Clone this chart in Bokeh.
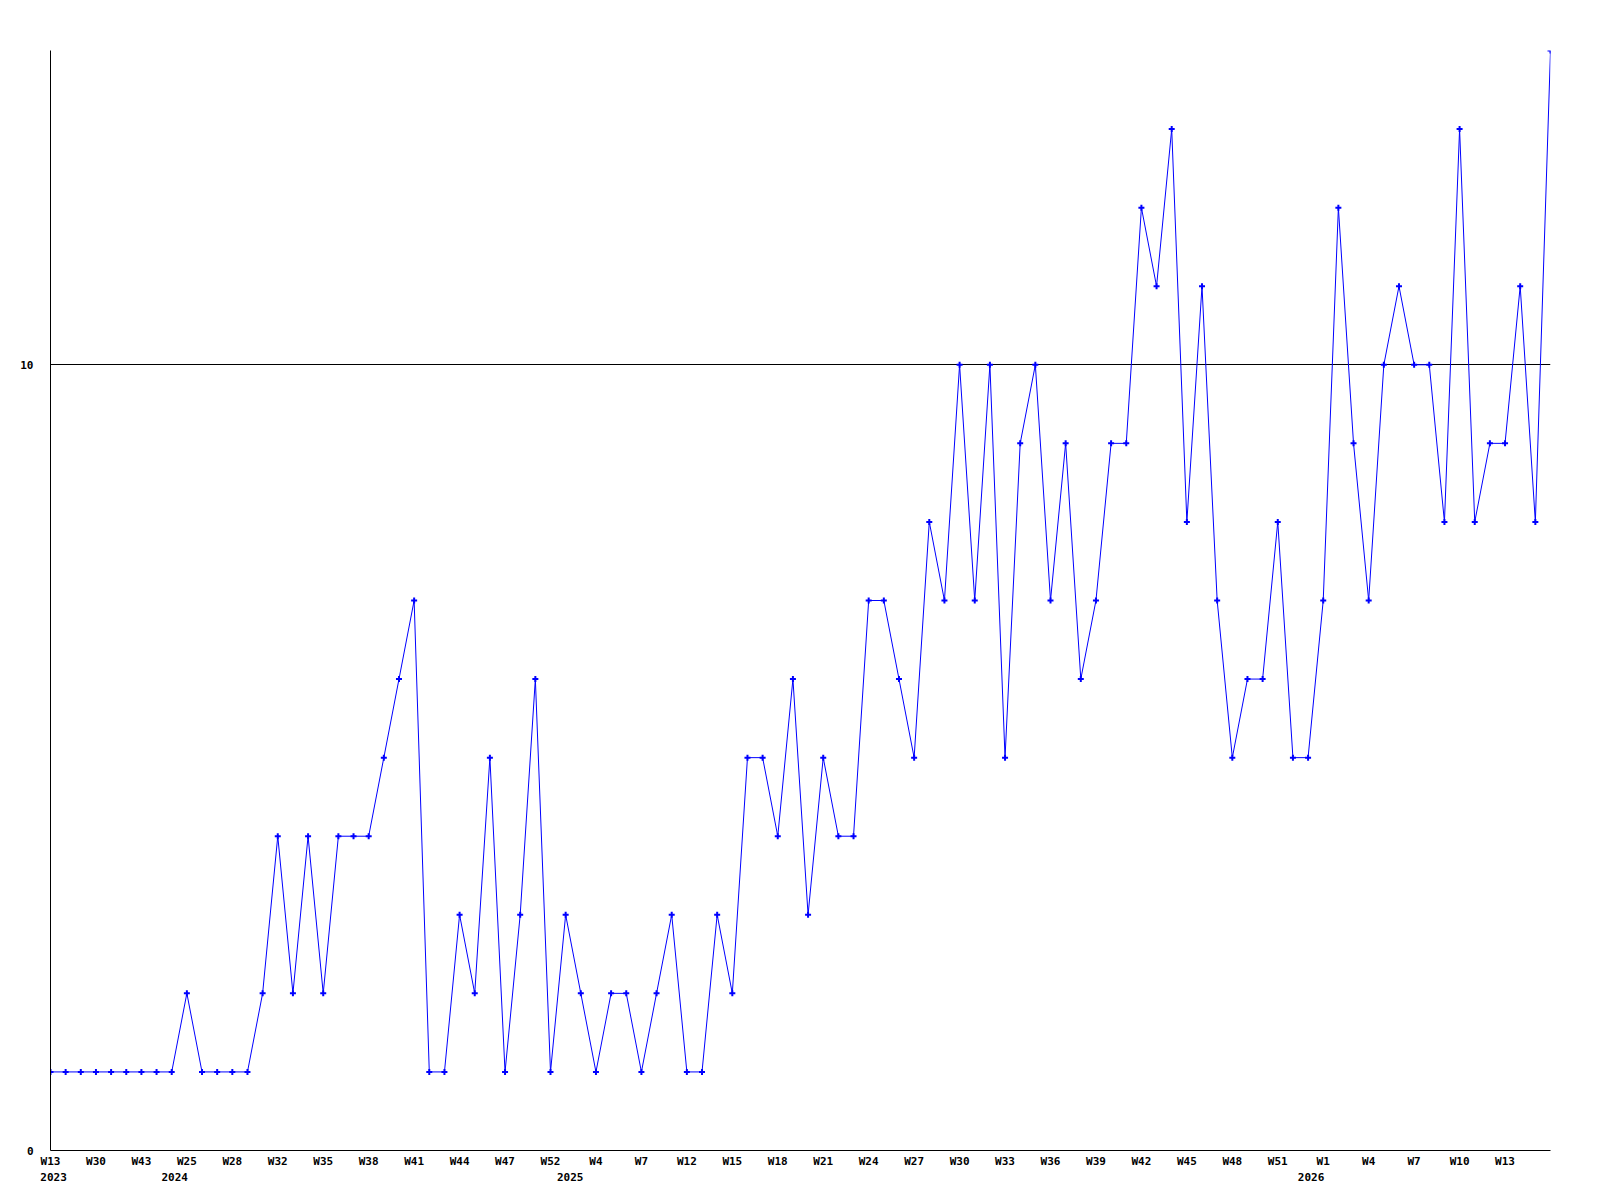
from bokeh.plotting import figure
from bokeh.models import Range1d, FixedTicker, LinearAxis
from bokeh.embed import file_html
from bokeh.resources import INLINE

# Weekly values (100 weekly samples)
values = [1, 1, 1, 1, 1, 1, 1, 1, 1, 2,
          1, 1, 1, 1, 2, 4, 2, 4, 2, 4,
          4, 4, 5, 6, 7, 1, 1, 3, 2, 5,
          1, 3, 6, 1, 3, 2, 1, 2, 2, 1,
          2, 3, 1, 1, 3, 2, 5, 5, 4, 6,
          3, 5, 4, 4, 7, 7, 6, 5, 8, 7,
          10, 7, 10, 5, 9, 10, 7, 9, 6, 7,
          9, 9, 12, 11, 13, 8, 11, 7, 5, 6,
          6, 8, 5, 5, 7, 12, 9, 7, 10, 11,
          10, 10, 8, 13, 8, 9, 9, 11, 8, 14]

week_labels = ["W13", "W30", "W43", "W25", "W28", "W32", "W35", "W38", "W41",
               "W44", "W47", "W52", "W4", "W7", "W12", "W15", "W18", "W21",
               "W24", "W27", "W30", "W33", "W36", "W39", "W42", "W45", "W48",
               "W51", "W1", "W4", "W7", "W10", "W13"]
week_label_pos = list(range(0, 3 * len(week_labels), 3))

year_labels = ["2023", "2024", "2025", "2026"]
year_label_pos = [0.2, 8.2, 34.3, 83.2]

y_ticks = [0, 10]

x = list(range(len(values)))

FONT = "DejaVu Sans Mono"

p = figure(width=1592, height=1192,
           x_range=Range1d(0, len(values) - 1), y_range=Range1d(0, 14),
           output_backend="svg", toolbar_location=None,
           x_axis_location=None, y_axis_location=None,
           min_border_left=50, min_border_right=42,
           min_border_top=50, min_border_bottom=42)
p.outline_line_color = None
p.background_fill_color = "white"
p.border_fill_color = "white"

# week axis
xa = LinearAxis(ticker=FixedTicker(ticks=week_label_pos),
                major_label_overrides={pos: lab for pos, lab in zip(week_label_pos, week_labels)})
xa.axis_line_color = "black"
xa.axis_line_width = 1
xa.major_tick_line_color = None
xa.minor_tick_line_color = None
xa.major_label_standoff = -2
xa.major_label_text_font = FONT
xa.major_label_text_font_style = "bold"
xa.major_label_text_font_size = "11px"
xa.major_label_text_color = "black"
p.add_layout(xa, "below")

# year axis
ya_year = LinearAxis(ticker=FixedTicker(ticks=year_label_pos),
                     major_label_overrides={pos: lab for pos, lab in zip(year_label_pos, year_labels)})
ya_year.axis_line_color = None
ya_year.major_tick_line_color = None
ya_year.minor_tick_line_color = None
ya_year.major_label_standoff = -4
ya_year.major_label_text_font = FONT
ya_year.major_label_text_font_style = "bold"
ya_year.major_label_text_font_size = "11px"
ya_year.major_label_text_color = "black"
p.add_layout(ya_year, "below")

# y axis
yax = LinearAxis(ticker=FixedTicker(ticks=y_ticks))
yax.axis_line_color = "black"
yax.axis_line_width = 1
yax.major_tick_line_color = None
yax.minor_tick_line_color = None
yax.major_label_standoff = 11
yax.major_label_text_font = FONT
yax.major_label_text_font_style = "bold"
yax.major_label_text_font_size = "11px"
yax.major_label_text_color = "black"
p.add_layout(yax, "left")

p.xgrid.visible = False
p.ygrid.ticker = FixedTicker(ticks=[10])
p.ygrid.grid_line_color = "black"
p.ygrid.grid_line_width = 1
p.ygrid.grid_line_alpha = 1.0

p.line(x, values, line_color="#0000ff", line_width=1)
p.scatter(x, values, marker="cross", size=6, line_color="#0000ff", line_width=2)

open("out.html", "w").write(file_html(p, INLINE))
